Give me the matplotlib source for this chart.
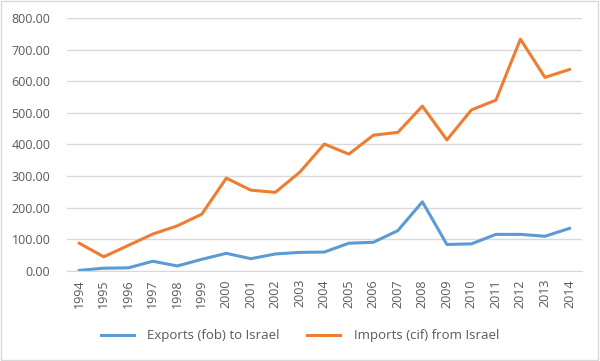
import matplotlib
matplotlib.use("Agg")
import matplotlib.pyplot as plt
from matplotlib.patches import Rectangle

years = [str(y) for y in range(1994, 2015)]
exports = [1, 8, 9, 30, 15, 36, 55, 38, 53, 58, 59, 87, 90, 127, 218, 83, 85, 115, 115, 109, 134]
imports = [87, 44, 80, 116, 142, 179, 293, 255, 248, 312, 401, 369, 429, 438, 521, 414, 509, 540, 733, 612, 637]
yticks = [0, 100, 200, 300, 400, 500, 600, 700, 800]

plt.rcParams['font.family'] = ['Open Sans', 'DejaVu Sans']

fig = plt.figure(figsize=(6.0, 3.61), dpi=100)
ax = fig.add_axes([67/600, 1 - 270.7/361, (581.7 - 67)/600, (270.7 - 18)/361])

x = list(range(len(years)))
l1, = ax.plot(x, exports, color='#5B9BD5', lw=2.2, solid_joinstyle='round', label='Exports (fob) to Israel')
l2, = ax.plot(x, imports, color='#ED7D31', lw=2.2, solid_joinstyle='round', label='Imports (cif) from Israel')

ax.set_xlim(-0.5, len(years) - 0.5)
ax.set_ylim(0, 800)
ax.set_yticks(yticks)
ax.set_yticklabels([f"{v:.2f}" for v in yticks])
ax.set_xticks(x)
ax.set_xticklabels(years, rotation=90)
ax.grid(axis='y', color='#D9D9D9', lw=1)
ax.set_axisbelow(True)
for s in ['top', 'right', 'left']:
    ax.spines[s].set_visible(False)
ax.spines['bottom'].set_color('#D9D9D9')
ax.tick_params(axis='both', length=0, colors='#595959', labelsize=9)
ax.tick_params(axis='y', pad=12)
ax.tick_params(axis='x', pad=6)

fig.legend(handles=[l1, l2], loc='center', bbox_to_anchor=(0.5, 1 - 335.7/361), ncol=2,
           frameon=False, fontsize=9.5, labelcolor='#595959', handlelength=2.5,
           columnspacing=2.1, handletextpad=1.0)

fig.patches.append(Rectangle((0.002, 0.003), 0.994, 0.994, transform=fig.transFigure,
                             fill=False, edgecolor='#D9D9D9', lw=1))
fig.savefig('out.png', dpi=100)
